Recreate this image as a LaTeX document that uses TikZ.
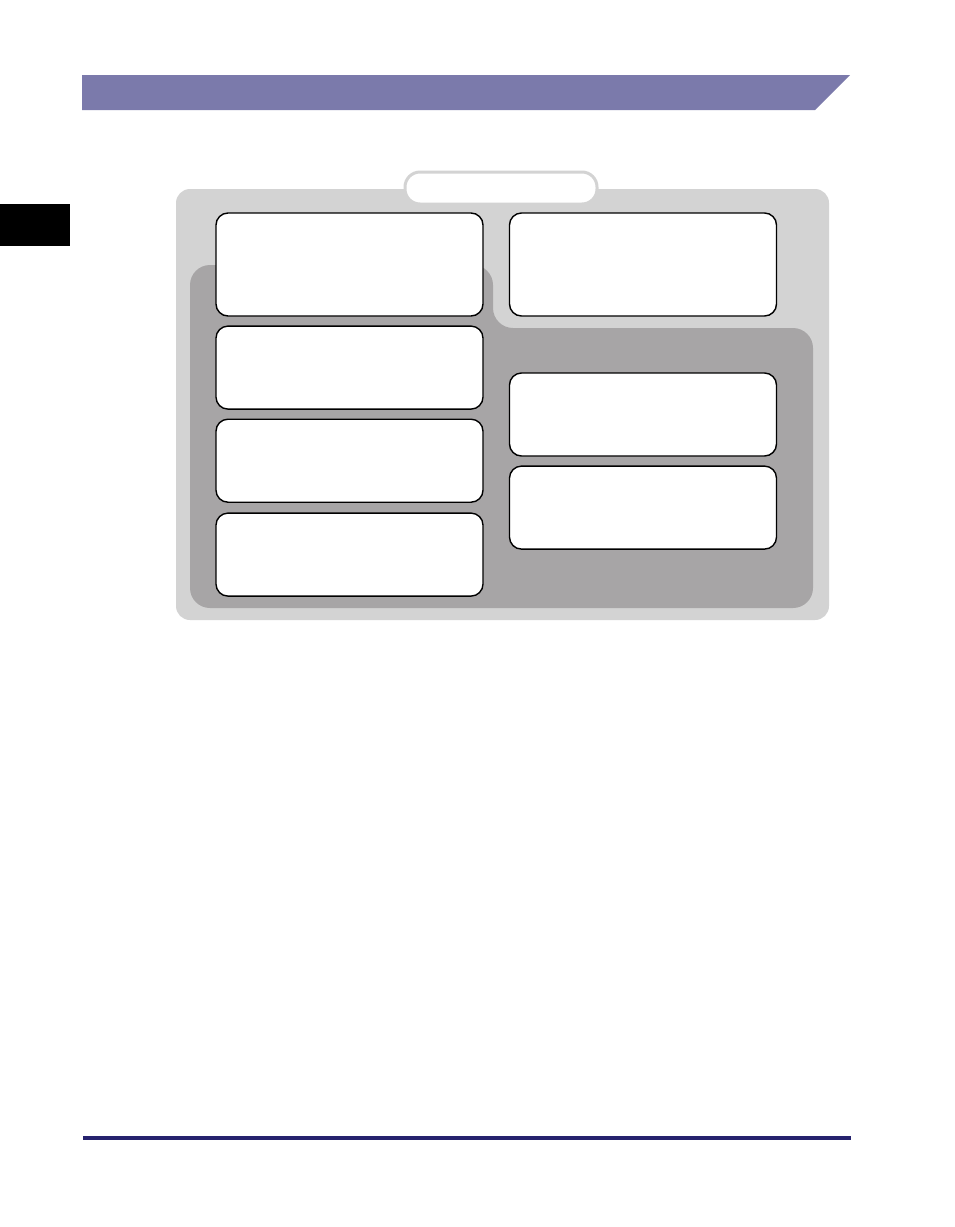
\documentclass[tikz,border=0pt]{standalone}
\usepackage{tikz}
\usetikzlibrary{positioning}

\definecolor{headerblue}{RGB}{123,122,171}
\definecolor{rulenavy}{RGB}{38,34,110}
\definecolor{panellight}{RGB}{211,211,211}
\definecolor{paneldark}{RGB}{167,165,166}

\tikzset{
  cell/.style={draw=black, fill=white, line width=1.4pt, rounded corners=12pt,
    inner sep=0pt, minimum width=267pt, minimum height=83pt},
  tallcell/.style={cell, minimum height=103pt},
  pill/.style={draw=panellight, fill=white, line width=3pt, rounded corners=15pt,
    inner sep=0pt, minimum width=192pt, minimum height=32pt}
}

\begin{document}
\begin{tikzpicture}[x=1pt,y=-1pt]
\useasboundingbox (0,0) rectangle (954,1227);

% page furniture
\fill[headerblue] (82,75) -- (850,75) -- (815,110) -- (82,110) -- cycle;
\fill[black] (0,204) rectangle (70,246);
\fill[rulenavy] (83,1136) rectangle (851,1140);

% panels
\fill[panellight, rounded corners=14pt] (176,189) rectangle (829,620);
\fill[paneldark, rounded corners=20pt] (190,608) -- (190,265) -- (493,265) -- (493,328) -- (813,328) -- (813,608) -- cycle;
\node[pill] (tab) at (501,188) {};

% left column
\node[tallcell] (gen) at (349.5,264.5) {};
\node[cell, below=8.7pt of gen] (opta) {};
\node[cell, below=8.7pt of opta] (optb) {};
\node[cell, below=9.5pt of optb] (optc) {};

% right column
\node[tallcell] (sys) at (643,264.5) {};
\node[cell] (optd) at (643,414.5) {};
\node[cell, below=8.7pt of optd] (opte) {};

\end{tikzpicture}
\end{document}
